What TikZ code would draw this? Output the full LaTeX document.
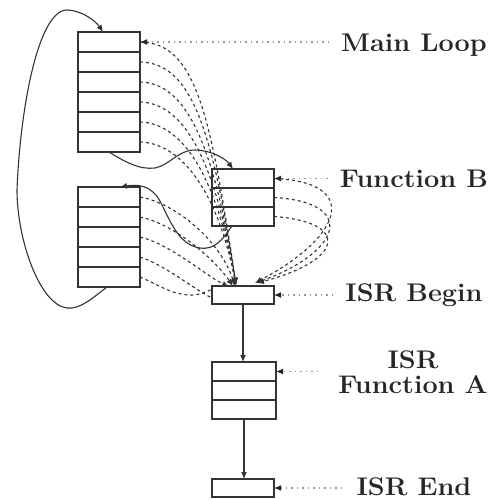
\documentclass[tikz,border=0pt]{standalone}
\usepackage{graphicx}
\usetikzlibrary{arrows.meta}
\newcommand\widetext[1]{\scalebox{1.06}[1]{#1}}
\begin{document}
\begin{tikzpicture}[x=1pt,y=-1pt,
  cell/.style={draw=black!80,line width=2pt,minimum width=62pt,minimum height=20pt,inner sep=0pt,outer sep=0pt},
  thinbox/.style={cell,minimum height=18pt},
  lab/.style={font=\fontsize{25.5}{25}\selectfont\bfseries,text=black!85,inner sep=0pt,anchor=base},
  pointer/.style={draw=black!40,line width=1.1pt,dash pattern=on 1.5pt off 4pt,-{Latex[length=7pt,width=6pt,color=black!85]}},
  intr/.style={draw=black!80,line width=1.1pt,dash pattern=on 3pt off 3pt,-{Latex[length=7pt,width=6pt]}},
  intrn/.style={draw=black!80,line width=1.1pt,dash pattern=on 3pt off 3pt},
  flow/.style={draw=black!80,line width=1.1pt},
  flowtip/.style={flow,-{Latex[length=7pt,width=6pt]}}
]
\useasboundingbox (0,0) rectangle (492,500);

% Main loop stack
\foreach \i/\y in {1/42,2/62,3/82,4/102,5/122,6/142}
  \node[cell] (m\i) at (109,\y) {};
% lower stack
\foreach \i/\y in {1/197,2/217,3/237,4/257,5/277}
  \node[cell] (l\i) at (109,\y) {};
% Function B
\foreach \i/\y in {1/178.5,2/197.5,3/216.5}
  \node[cell,minimum height=19pt] (fb\i) at (243,\y) {};
% ISR Begin
\node[thinbox] (isrb) at (243,295) {};
% ISR Function A
\foreach \i/\y in {1/371.5,2/390.5,3/409.5}
  \node[cell,minimum height=19pt,minimum width=64pt] (ia\i) at (244,\y) {};
% ISR End
\node[thinbox] (ie) at (243,488) {};

% labels
\node[lab] (lml) at (414,52) {\widetext{Main Loop}};
\node[lab] (lfb) at (414,187) {\widetext{Function B}};
\node[lab] (lib) at (414,301) {\widetext{ISR Begin}};
\node[lab] (lia1) at (413,368) {\widetext{ISR}};
\node[lab] (lia2) at (413,393) {\widetext{Function A}};
\node[lab] (lie) at (414,495) {\widetext{ISR End}};

% pointers
\draw[pointer] ([xshift=-12pt]lml.west |- m1.east) -- (m1.east);
\draw[pointer] ([xshift=-12pt]lfb.west |- fb1.east) -- (fb1.east);
\draw[pointer] ([xshift=-12pt]lib.west |- isrb.east) -- (isrb.east);
\draw[pointer] ([xshift=-20pt]lia2.west |- ia1.east) -- (ia1.east);
\draw[pointer] ([xshift=-14pt]lie.west |- ie.east) -- (ie.east);

% coordinates where interrupts enter
\coordinate (inA) at (236,285);
\coordinate (inB) at (255,283);

% interrupts from main loop
\draw[intr] (m1.east) .. controls (195,43) and (210,110) .. (inA);
\draw[intr] (m2.east) .. controls (190,63) and (212,125) .. (inA);
\draw[intr] (m3.east) .. controls (185,83) and (213,140) .. (inA);
\draw[intr] (m4.east) .. controls (182,103) and (214,155) .. (inA);
\draw[intr] (m5.east) .. controls (180,123) and (215,170) .. (inA);
\draw[intr] (m6.east) .. controls (178,143) and (216,185) .. (inA);
% interrupts from lower stack
\draw[intr] (l1.east) .. controls (175,203) and (220,240) .. (235,286);
\draw[intr] (l2.east) .. controls (175,224) and (215,260) .. (233,286);
\draw[intr] (l3.east) .. controls (170,244) and (205,275) .. (229,287);
\draw[intrn] (l4.east) .. controls (165,265) and (195,290) .. ([yshift=-3pt]isrb.west);
\draw[intrn] (l5.east) .. controls (160,285) and (185,305) .. ([yshift=6pt]isrb.west);
% interrupts from Function B
\draw[intr] (fb1.east) .. controls (360,182) and (345,235) .. (inB);
\draw[intr] (fb2.east) .. controls (355,202) and (345,250) .. ([xshift=1pt]inB);
\draw[intr] (fb3.east) .. controls (350,222) and (345,260) .. ([xshift=2pt]inB);

% control flow
\draw[flowtip] ([xshift=-2pt]l5.south) .. controls (95,296) and (80,310) .. (67,308)
  .. controls (40,305) and (17,240) .. (17,190)
  .. controls (20,110) and (38,10) .. (67,10)
  .. controls (80,10) and (95,20) .. ([xshift=-6pt]m1.north);
\draw[flowtip] (m6.south) .. controls (125,162) and (140,170) .. (155,168)
  .. controls (170,165) and (178,150) .. (195,150)
  .. controls (210,150) and (225,158) .. ([xshift=-10pt]fb1.north);
\draw[flowtip] ([xshift=-11pt]fb3.south) .. controls (222,240) and (215,250) .. (200,248)
  .. controls (180,245) and (172,225) .. (162,205)
  .. controls (155,190) and (145,183) .. ([xshift=11pt]l1.north);
\draw[flowtip] (isrb.south) -- (isrb.south |- ia1.north);
\draw[flowtip] (ia3.south) -- (ia3.south |- ie.north);
\end{tikzpicture}
\end{document}
